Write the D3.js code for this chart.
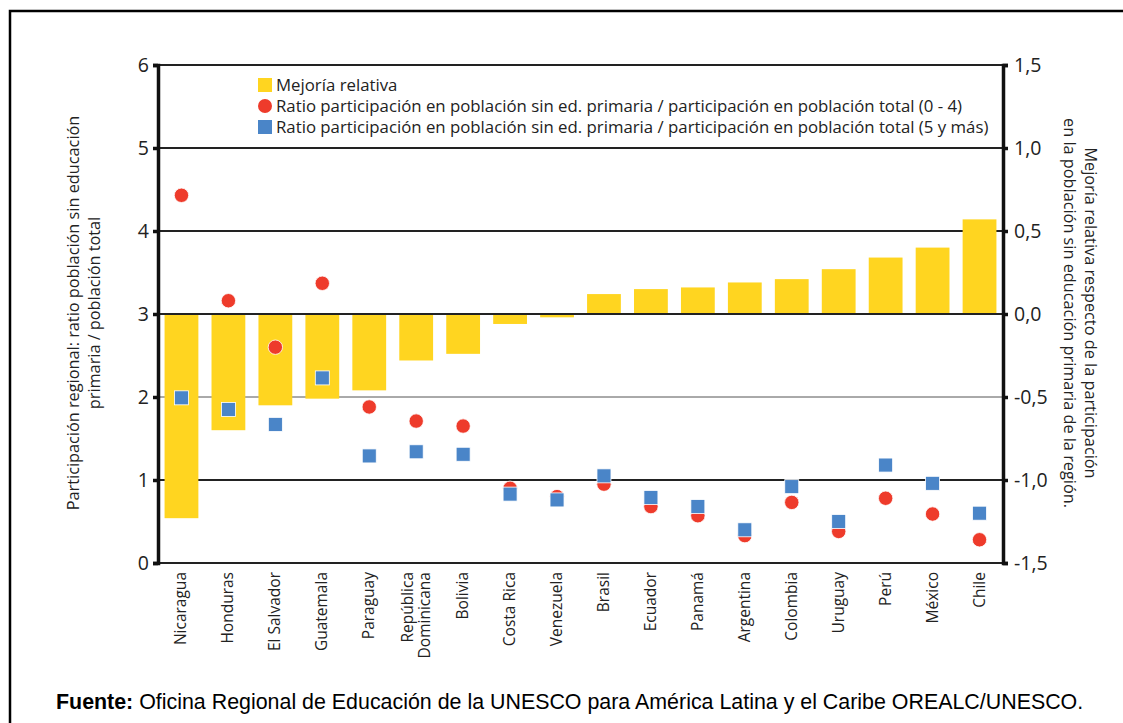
<!DOCTYPE html>
<html>
<head>
<meta charset="utf-8">
<script src="https://cdn.jsdelivr.net/npm/d3@7"></script>
<style>
  body { margin: 0; background: #fff; }
  svg { display: block; }
  .lbl { font-family: "Open Sans", sans-serif; fill: #222; }
</style>
</head>
<body>
<div id="chart"></div>
<script>
// Countries, in the order of the chart
var countries = ["Nicaragua", "Honduras", "El Salvador", "Guatemala", "Paraguay",
  "República Dominicana", "Bolivia", "Costa Rica", "Venezuela", "Brasil", "Ecuador",
  "Panamá", "Argentina", "Colombia", "Uruguay", "Perú", "México", "Chile"];

// Mejoría relativa (right axis)
var mejoria = [-1.23, -0.70, -0.55, -0.51, -0.46, -0.28, -0.24, -0.06, -0.02,
  0.12, 0.15, 0.16, 0.19, 0.21, 0.27, 0.34, 0.40, 0.57];

// Ratio (0 - 4) - red circles (left axis)
var ratio04 = [4.43, 3.16, 2.60, 3.37, 1.88, 1.71, 1.65, 0.90, 0.80,
  0.95, 0.68, 0.57, 0.33, 0.73, 0.38, 0.78, 0.59, 0.28];

// Ratio (5 y más) - blue squares (left axis)
var ratio5 = [1.99, 1.85, 1.67, 2.23, 1.29, 1.34, 1.31, 0.83, 0.76,
  1.05, 0.79, 0.68, 0.40, 0.92, 0.50, 1.18, 0.96, 0.60];

var leftTicks = [0, 1, 2, 3, 4, 5, 6];
var rightTicks = [-1.5, -1.0, -0.5, 0.0, 0.5, 1.0, 1.5];

var legendItems = [
  {label: "Mejoría relativa", shape: "rect", color: "#ffd520"},
  {label: "Ratio participación en población sin ed. primaria / participación en población total (0 - 4)", shape: "circle", color: "#ee3b2b"},
  {label: "Ratio participación en población sin ed. primaria / participación en población total (5 y más)", shape: "rect", color: "#4a85c8"}
];

var W = 1123, H = 723;
var margin = {top: 65, right: 120, bottom: 160, left: 158};
var width = 1003 - margin.left, height = 563 - margin.top;

var svg = d3.select("#chart").append("svg")
  .attr("width", W).attr("height", H);

// outer frame (top and left edges)
svg.append("path")
  .attr("d", "M10,723 V11 H1123")
  .attr("fill", "none").attr("stroke", "#000").attr("stroke-width", 2.5);

var g = svg.append("g")
  .attr("transform", "translate(" + margin.left + "," + margin.top + ")");

var x = d3.scaleBand().domain(countries).range([0, width]).paddingInner(0.28).paddingOuter(0.14);
var yL = d3.scaleLinear().domain([0, 6]).range([height, 0]);
var yR = d3.scaleLinear().domain([-1.5, 1.5]).range([height, 0]);

// gridlines
g.selectAll(".grid").data(leftTicks).enter().append("line")
  .attr("x1", 0).attr("x2", width)
  .attr("y1", function(d) { return yL(d); }).attr("y2", function(d) { return yL(d); })
  .attr("stroke", function(d) { return d == 2 ? "#555" : "#222"; })
  .attr("stroke-width", function(d) { return d == 2 ? 1 : 2.2; });

// bars
g.selectAll(".bar").data(countries).enter().append("rect")
  .attr("x", function(d) { return x(d); })
  .attr("width", x.bandwidth())
  .attr("y", function(d, i) { return yR(Math.max(0, mejoria[i])); })
  .attr("height", function(d, i) { return Math.abs(yR(mejoria[i]) - yR(0)); })
  .attr("fill", "#ffd520");

// re-draw zero line over bars
g.append("line").attr("x1", 0).attr("x2", width)
  .attr("y1", yL(3)).attr("y2", yL(3)).attr("stroke", "#222").attr("stroke-width", 2.2);

// circles (0 - 4)
g.selectAll(".dot").data(countries).enter().append("circle")
  .attr("cx", function(d) { return x(d) + x.bandwidth() / 2; })
  .attr("cy", function(d, i) { return yL(ratio04[i]); })
  .attr("r", 7.2)
  .attr("fill", "#ee3b2b").attr("stroke", "#fff").attr("stroke-width", 0.8);

// squares (5 y más), on top of circles
var sq = 14;
g.selectAll(".sq").data(countries).enter().append("rect")
  .attr("x", function(d) { return x(d) + x.bandwidth() / 2 - sq / 2; })
  .attr("y", function(d, i) { return yL(ratio5[i]) - sq / 2; })
  .attr("width", sq).attr("height", sq)
  .attr("fill", "#4a85c8").attr("stroke", "#fff").attr("stroke-width", 0.8);

// axes
var yAxisL = d3.axisLeft(yL).tickValues(leftTicks).tickSize(5).tickPadding(4).tickFormat(d3.format("d"));
var yAxisR = d3.axisRight(yR).tickValues(rightTicks).tickSize(5).tickPadding(6)
  .tickFormat(function(d) { return d3.format(".1f")(d).replace(".", ",").replace("−", "-"); });

var gl = g.append("g").call(yAxisL);
var gr = g.append("g").attr("transform", "translate(" + width + ",0)").call(yAxisR);
[gl, gr].forEach(function(a) {
  a.select(".domain").attr("stroke", "#111").attr("stroke-width", 3.5);
  a.selectAll(".tick line").attr("stroke", "#111").attr("stroke-width", 3.5);
  a.selectAll(".tick text").attr("class", "lbl").style("font-size", "19.5px").attr("fill", "#333");
});

// x labels
var xl = g.selectAll(".xl").data(countries).enter().append("text")
  .attr("class", "lbl")
  .attr("transform", function(d) {
    return "translate(" + (x(d) + x.bandwidth() / 2) + "," + (height + 9) + ") rotate(-90)";
  })
  .attr("text-anchor", "end")
  .style("font-size", "15.5px");
xl.each(function(d) {
  var parts = d == "República Dominicana" ? ["República", "Dominicana"] : [d];
  var t = d3.select(this);
  parts.forEach(function(p, i) {
    t.append("tspan").attr("x", 0)
      .attr("y", parts.length == 1 ? 5 : (i == 0 ? -3 : 14))
      .text(p);
  });
});

// left axis title
var lt = svg.append("text").attr("class", "lbl")
  .attr("transform", "translate(79,313) rotate(-90)")
  .attr("text-anchor", "middle").style("font-size", "16.3px");
lt.append("tspan").attr("x", 0).attr("y", 0).text("Participación regional: ratio población sin educación");
lt.append("tspan").attr("x", 0).attr("y", 21).text("primaria / población total");

// right axis title
var rt = svg.append("text").attr("class", "lbl")
  .attr("transform", "translate(1085,313) rotate(90)")
  .attr("text-anchor", "middle").style("font-size", "16.3px");
rt.append("tspan").attr("x", 0).attr("y", 0).text("Mejoría relativa respecto de la  participación");
rt.append("tspan").attr("x", 0).attr("y", 21).text("en la población sin educación primaria de la región.");

// legend
var lg = g.append("g").attr("transform", "translate(100,20)");
legendItems.forEach(function(it, i) {
  var row = lg.append("g").attr("transform", "translate(0," + (i * 21) + ")");
  if (it.shape == "rect") {
    row.append("rect").attr("x", 0).attr("y", -7).attr("width", 14).attr("height", 14).attr("fill", it.color);
  } else {
    row.append("circle").attr("cx", 7).attr("cy", 0).attr("r", 7).attr("fill", it.color);
  }
  row.append("text").attr("class", "lbl").attr("x", 18).attr("y", 5.5)
    .style("font-size", "16.8px").text(it.label);
});

// source note
var src = svg.append("text").attr("x", 56).attr("y", 709)
  .style("font-family", "'Liberation Sans', Arial, sans-serif").style("font-size", "21.4px").attr("fill", "#000");
src.append("tspan").style("font-weight", "bold").text("Fuente:");
src.append("tspan").text(" Oficina Regional de Educación de la UNESCO para América Latina y el Caribe OREALC/UNESCO.");
</script>
</body>
</html>
